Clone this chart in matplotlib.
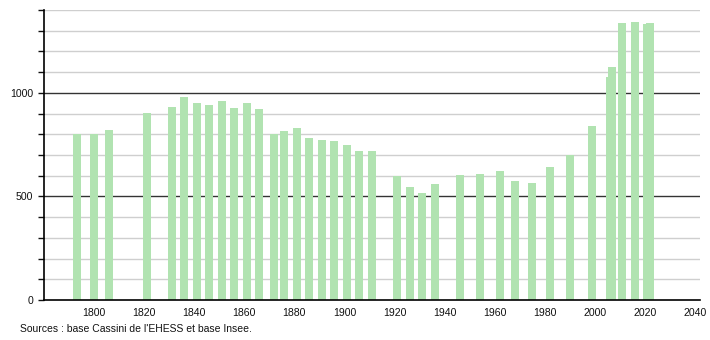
import matplotlib.pyplot as plt
from matplotlib.ticker import MultipleLocator, FixedLocator

plt.rcParams["font.family"] = ["Liberation Sans", "DejaVu Sans"]

# Recensements (années) et population
years = [1793, 1800, 1806, 1821, 1831, 1836, 1841, 1846, 1851, 1856,
         1861, 1866, 1872, 1876, 1881, 1886, 1891, 1896, 1901, 1906,
         1911, 1921, 1926, 1931, 1936, 1946, 1954, 1962, 1968, 1975,
         1982, 1990, 1999, 2006, 2007, 2011, 2016, 2021, 2022]
population = [803, 802, 823, 903, 932, 981, 949, 942, 963, 928,
              950, 920, 802, 818, 828, 784, 774, 770, 750, 721,
              721, 600, 545, 516, 561, 603, 610, 621, 576, 566,
              642, 698, 842, 1076, 1126, 1339, 1344, 1331, 1336]

x_ticks = list(range(1800, 2041, 20))
y_labels = [0, 500, 1000]
source = "Sources : base Cassini de l'EHESS et base Insee."

BAR_COLOR = "#b1e3b1"

fig = plt.figure(figsize=(7.1, 3.4), dpi=100)
ax = fig.add_axes([44 / 710, 40 / 340, 656 / 710, 290 / 340])

# grille : fine tous les 100, foncée à 500 et 1000
for v in range(100, 1401, 100):
    if v % 500 == 0:
        ax.axhline(v, color="#333333", linewidth=1.0, zorder=1)
    else:
        ax.axhline(v, color="#cfcfcf", linewidth=1.0, zorder=1)

ax.bar(years, population, width=3.2, color=BAR_COLOR, zorder=2)

ax.set_xlim(1780, 2042)
ax.set_ylim(0, 1400)

ax.xaxis.set_major_locator(FixedLocator(x_ticks))
ax.yaxis.set_major_locator(FixedLocator(y_labels))
ax.yaxis.set_minor_locator(MultipleLocator(100))

ax.tick_params(axis="x", length=0, pad=6, labelsize=7.6, colors="#111111")
ax.tick_params(axis="y", which="both", length=4, width=1, direction="out",
               pad=4, labelsize=7.6, colors="#111111")

for side in ("top", "right"):
    ax.spines[side].set_visible(False)
for side in ("left", "bottom"):
    ax.spines[side].set_color("black")
    ax.spines[side].set_linewidth(1.2)

fig.text(20 / 710, 1 - 329 / 340, source, fontsize=7.5, color="#111111",
         ha="left", va="center")

plt.savefig("out.png", dpi=100)
